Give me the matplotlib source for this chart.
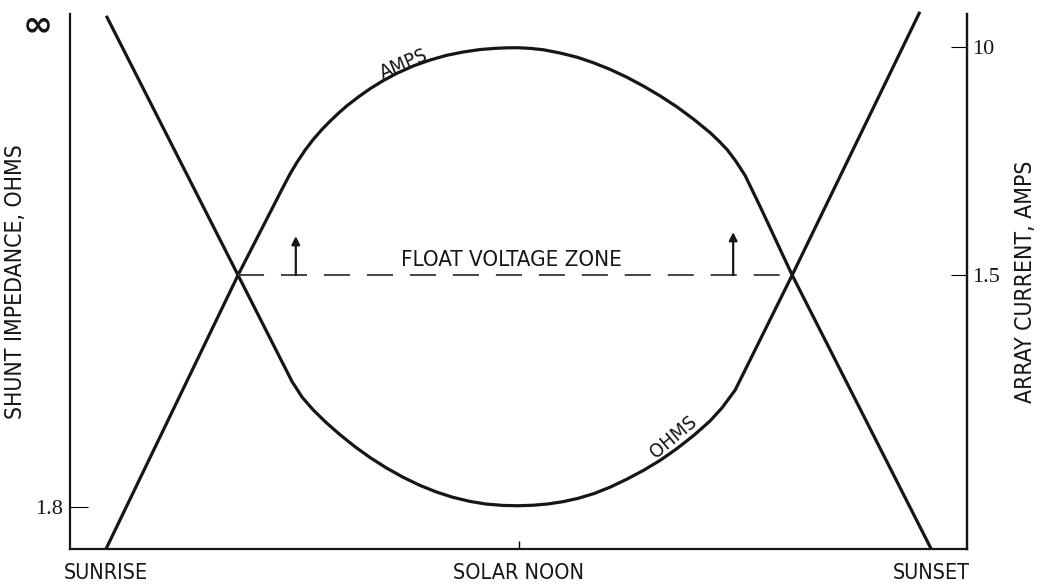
"""Shunt impedance and array current over one orbit day (sunrise to sunset)."""

import matplotlib

matplotlib.use("Agg")
import matplotlib.pyplot as plt

# time of day [h]: sunrise 6, solar noon 12, sunset 18
x_ticks = [6, 12, 18]
x_labels = ["SUNRISE", "SOLAR NOON", "SUNSET"]

# vertical scale is relative (schematic chart, 0 = bottom, 535 = top of frame)
amps_t = [6.000, 7.920, 8.575, 8.676, 8.778, 8.895, 9.011, 9.135, 9.258, 9.382,
          9.505, 9.673, 9.840, 10.036, 10.233, 10.473, 10.713, 10.953, 11.193,
          11.440, 11.687, 11.833, 11.993, 12.175, 12.356, 12.604, 12.851, 13.091,
          13.331, 13.571, 13.811, 14.058, 14.305, 14.545, 14.785, 14.909, 15.033,
          15.164, 15.295, 15.513, 15.978, 18.000]
amps_v = [0.0, 274.0, 362.0, 375.2, 387.0, 399.0, 409.5, 419.3, 428.0, 436.1,
          443.5, 452.4, 460.5, 468.8, 476.0, 483.4, 489.2, 493.9, 497.2,
          499.7, 501.0, 501.4, 501.5, 500.8, 499.5, 496.2, 492.0, 486.4,
          479.8, 472.1, 463.3, 453.3, 442.2, 430.0, 416.5, 408.4, 399.5,
          387.5, 373.5, 342.5, 274.0, 0.0]

ohms_t = [6.015, 7.920, 8.705, 8.851, 9.011, 9.200, 9.404, 9.622, 9.840, 10.073,
          10.320, 10.567, 10.815, 11.047, 11.295, 11.527, 11.775, 11.993, 12.211,
          12.429, 12.647, 12.865, 13.098, 13.331, 13.578, 13.811, 14.058, 14.305,
          14.553, 14.785, 14.960, 15.149, 15.978, 17.825]
ohms_v = [532.0, 274.0, 167.6, 152.0, 139.3, 126.6, 114.3, 102.3, 91.5, 81.3,
          71.8, 63.6, 56.8, 51.7, 47.6, 45.0, 43.6, 43.3, 43.8,
          45.1, 47.4, 50.7, 55.5, 61.9, 70.0, 78.5, 88.7, 100.6,
          114.0, 128.2, 141.4, 159.0, 274.0, 536.0]

float_t = [7.92, 15.978]
float_v = 274.0
arrow_t = [8.76, 15.12]
arrow_top = [313.0, 317.0]

left_ticks = [42.0]
left_labels = ["1.8"]
inf_level = 524.0
right_ticks = [502.0, 274.0]
right_labels = ["10", "1.5"]

LABEL_FONT = dict(family="DejaVu Sans", stretch="condensed")
NUM_FONT = ["Liberation Serif", "DejaVu Serif"]
INK = "#161616"

fig = plt.figure(figsize=(10.41, 5.86), dpi=100)
ax = fig.add_axes([0.0672, 0.0631, 0.8617, 0.9126])
ax.set_xlim(5.476, 18.52)
ax.set_ylim(0, 535)

ax.plot(amps_t, amps_v, color=INK, lw=2.3, solid_joinstyle="round")
ax.plot(ohms_t, ohms_v, color=INK, lw=2.3, solid_joinstyle="round", clip_on=False)
ax.plot(float_t, [float_v, float_v], color="#444444", lw=1.4,
        linestyle=(0, (13.4, 8.7)))
for t, top in zip(arrow_t, arrow_top):
    ax.annotate("", xy=(t, top), xytext=(t, float_v),
                arrowprops=dict(arrowstyle="-|>", color=INK, lw=1.6,
                                mutation_scale=12, shrinkA=0, shrinkB=0))

ax.text(11.89, 279, "FLOAT VOLTAGE ZONE", ha="center", va="bottom",
        fontsize=16, color=INK, **LABEL_FONT)
ax.text(10.33, 485, "AMPS", ha="center", va="center", rotation=23,
        fontsize=14.5, color=INK, **LABEL_FONT)
ax.text(14.25, 112, "OHMS", ha="center", va="center", rotation=40,
        fontsize=14.5, color=INK, **LABEL_FONT)

ax.spines["top"].set_visible(False)
for side in ("left", "bottom", "right"):
    ax.spines[side].set_linewidth(1.6)
    ax.spines[side].set_color(INK)

ax.set_xticks(x_ticks)
ax.set_xticklabels(x_labels, fontsize=15.5, color=INK, **LABEL_FONT)
ax.tick_params(axis="x", direction="in", length=6, width=1.0, pad=10)
for i in (0, 2):
    ax.xaxis.get_major_ticks()[i].tick1line.set_visible(False)

ax.set_yticks(left_ticks)
ax.set_yticklabels(left_labels, fontsize=16, family=NUM_FONT, color=INK)
ax.tick_params(axis="y", direction="in", length=13, width=0.8, pad=5)
ax.annotate("\u221e", xy=(0, inf_level), xycoords=ax.get_yaxis_transform(),
            xytext=(-32, 0), textcoords="offset pixels", ha="center", va="center",
            fontsize=26, fontweight="bold", family="DejaVu Sans", color=INK,
            rotation=0)
ax.set_ylabel("SHUNT IMPEDANCE, OHMS", fontsize=16.5, color=INK, labelpad=6,
              **LABEL_FONT)

ax2 = ax.twinx()
ax2.set_ylim(ax.get_ylim())
for side in ("top", "left", "bottom"):
    ax2.spines[side].set_visible(False)
ax2.spines["right"].set_linewidth(1.6)
ax2.spines["right"].set_color(INK)
ax2.set_yticks(right_ticks)
ax2.set_yticklabels(right_labels, fontsize=16, family=NUM_FONT, color=INK)
ax2.tick_params(axis="y", direction="in", length=11.5, width=0.8, pad=4)
ax2.set_ylabel("ARRAY CURRENT, AMPS", fontsize=16.5, color=INK, rotation=90,
               labelpad=10, **LABEL_FONT)

fig.savefig("out.png", dpi=100)
